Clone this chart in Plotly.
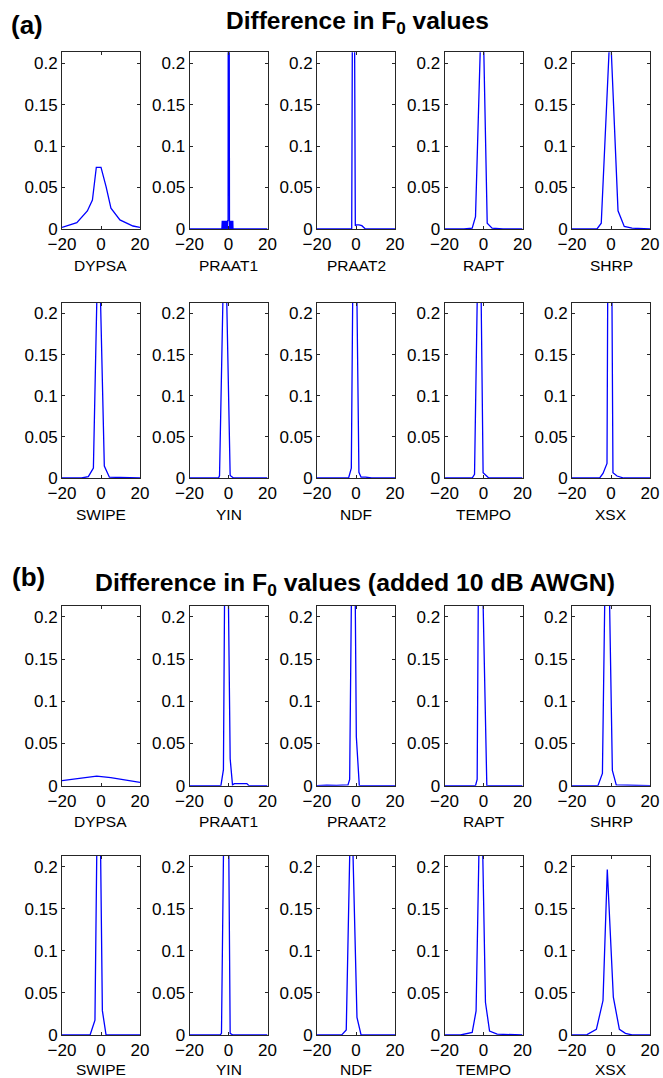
import plotly.graph_objects as go

W, H = 663, 1078

METHODS_ROW1 = ["DYPSA", "PRAAT1", "PRAAT2", "RAPT", "SHRP"]
METHODS_ROW2 = ["SWIPE", "YIN", "NDF", "TEMPO", "XSX"]

X_TICKS = [-20, 0, 20]
Y_TICKS = [0, 0.05, 0.1, 0.15, 0.2]
Y_TICKTEXT = ["0", "0.05", "0.1", "0.15", "0.2"]

# ---- (a) clean speech ----
A_DYPSA_X = [-20, -12.4, -7, -4.4, -2.4, 0, 2.6, 5.1, 9.7, 16.4, 20]
A_DYPSA_Y = [0.002, 0.0076, 0.0217, 0.035, 0.0744, 0.0744, 0.051, 0.025, 0.011, 0.0036, 0.002]

A_PRAAT1_X = [-20, -3.4, -3.2, -3.0, -2.8, -2.6, -2.4, -2.2, -2.0, -1.8, -1.6, -1.4, -1.2, -1.0,
              -0.8, -0.6, -0.4, -0.2, 0.0, 0.2, 0.3, 0.4, 0.5, 0.6, 0.7, 0.8, 0.9, 1.0, 1.1, 1.2,
              1.3, 1.4, 1.5, 1.6, 1.7, 1.8, 1.9, 2.0, 2.1, 2.2, 2.3, 20]
A_PRAAT1_Y = [0, 0, 0.01, 0, 0.01, 0, 0.01, 0, 0.01, 0, 0.01, 0, 0.01, 0,
              0.01, 0, 0.01, 0.01, 0.95, 0.01, 0, 0.01, 0, 0.01, 0, 0.01, 0, 0.01, 0, 0.01,
              0, 0.01, 0, 0.01, 0, 0.01, 0, 0.01, 0, 0.01, 0, 0]

A_PRAAT2_X = [-20, -2.2, -1.35, -0.35, 0.3, 1.5, 3.0, 4.8, 20]
A_PRAAT2_Y = [0, 0, 0.6, 0.004, 0.005, 0.005, 0.004, 0, 0]

A_RAPT_X = [-20, -10, -5.8, -4.1, -0.6, 1.9, 4.4, 10, 20]
A_RAPT_Y = [0, 0, 0.001, 0.015, 0.304, 0.007, 0.001, 0, 0]

A_SHRP_X = [-20, -7.2, -5, -0.4, 3.6, 6.8, 10.8, 20]
A_SHRP_Y = [0, 0, 0.007, 0.245, 0.022, 0.003, 0.001, 0]

A_SWIPE_X = [-20, -10, -6.5, -3.9, -1.25, 1.7, 4.3, 20]
A_SWIPE_Y = [0, 0, 0.0016, 0.012, 0.32, 0.0145, 0.001, 0]

A_YIN_X = [-20, -5.1, -4.6, -1.9, 0.85, 2.6, 20]
A_YIN_Y = [0, 0, 0.003, 0.336, 0.003, 0, 0]

A_NDF_X = [-20, -3.8, -2.4, -0.8, 1.5, 2.6, 5, 8, 20]
A_NDF_Y = [0, 0, 0.012, 0.48, 0.007, 0.001, 0.001, 0, 0]

A_TEMPO_X = [-20, -5.8, -4.6, -2.05, -0.2, 2.7, 20]
A_TEMPO_Y = [0, 0, 0.0045, 0.397, 0.0065, 0, 0]

A_XSX_X = [-20, -5.8, -4.1, -2.05, -0.76, 1.0, 3.1, 6.5, 20]
A_XSX_Y = [0, 0, 0.0056, 0.0177, 0.74, 0.0064, 0.0024, 0, 0]

# ---- (b) added 10 dB AWGN ----
B_DYPSA_X = [-20, -10, -2.2, 5, 12, 20]
B_DYPSA_Y = [0.0059, 0.0088, 0.0114, 0.0095, 0.0068, 0.004]

B_PRAAT1_X = [-20, -3.9, -2.6, -1.28, 0.85, 2.05, 3, 9.4, 10.5, 20]
B_PRAAT1_Y = [0, 0, 0.019, 0.482, 0.032, 0.001, 0.0025, 0.0025, 0, 0]

B_PRAAT2_X = [-20, -15, -10, -6, -4.1, -3.25, -1.27, 0.17, 1.7, 20]
B_PRAAT2_Y = [0, 0.0008, 0.0005, 0.0008, 0.001, 0.0075, 0.483, 0.058, 0, 0]

B_RAPT_X = [-20, -4.1, -3.25, -2.11, 1.7, 20]
B_RAPT_Y = [0, 0, 0.0075, 0.432, 0, 0]

B_SHRP_X = [-20, -6.7, -4.4, -2.11, 0.7, 2.7, 20]
B_SHRP_Y = [0, 0, 0.0145, 0.408, 0.018, 0.001, 0]

B_SWIPE_X = [-20, -5.6, -3.1, -1.2, 0.7, 2.6, 20]
B_SWIPE_Y = [0, 0, 0.0176, 0.424, 0.029, 0, 0]

B_YIN_X = [-20, -4.3, -3.6, -0.95, 0.85, 2.2, 20]
B_YIN_Y = [0, 0, 0.002, 0.556, 0.002, 0, 0]

B_NDF_X = [-20, -12, -7.2, -5, -2.46, 0.5, 2.6, 20]
B_NDF_Y = [0, 0.0005, 0.0005, 0.006, 0.303, 0.021, 0, 0]

B_TEMPO_X = [-20, -11.8, -5.8, -3.8, -1.38, 1.0, 3.1, 7, 20]
B_TEMPO_Y = [0, 0, 0.003, 0.0286, 0.343, 0.039, 0.0047, 0.001, 0]

B_XSX_X = [-20, -12.3, -7.5, -4.1, -1.9, 1.2, 4.3, 7.4, 10.8, 20]
B_XSX_Y = [0, 0.0005, 0.0067, 0.041, 0.197, 0.045, 0.0067, 0.002, 0, 0]

panels = [
    (A_DYPSA_X, A_DYPSA_Y), (A_PRAAT1_X, A_PRAAT1_Y), (A_PRAAT2_X, A_PRAAT2_Y),
    (A_RAPT_X, A_RAPT_Y), (A_SHRP_X, A_SHRP_Y),
    (A_SWIPE_X, A_SWIPE_Y), (A_YIN_X, A_YIN_Y), (A_NDF_X, A_NDF_Y),
    (A_TEMPO_X, A_TEMPO_Y), (A_XSX_X, A_XSX_Y),
    (B_DYPSA_X, B_DYPSA_Y), (B_PRAAT1_X, B_PRAAT1_Y), (B_PRAAT2_X, B_PRAAT2_Y),
    (B_RAPT_X, B_RAPT_Y), (B_SHRP_X, B_SHRP_Y),
    (B_SWIPE_X, B_SWIPE_Y), (B_YIN_X, B_YIN_Y), (B_NDF_X, B_NDF_Y),
    (B_TEMPO_X, B_TEMPO_Y), (B_XSX_X, B_XSX_Y),
]
labels = METHODS_ROW1 + METHODS_ROW2 + METHODS_ROW1 + METHODS_ROW2

# panel positions in page pixels
col_left = [62, 189.5, 317, 444.5, 572]
col_w = 78
row_tb = [(52.3, 229), (302.7, 478), (606, 785.7), (856, 1035)]
label_gap = [36, 36, 36, 34]


def fx(px):
    return px / W


def fy(py):
    return 1 - py / H


FONT = "Liberation Sans, Arial, Helvetica, sans-serif"
AXCOL = "#262626"

fig = go.Figure()
layout = dict(
    width=W, height=H,
    margin=dict(l=0, r=0, t=0, b=0, pad=0, autoexpand=False),
    paper_bgcolor="white", plot_bgcolor="white",
    showlegend=False,
    font=dict(family=FONT, size=17, color="black"),
)
annotations = []

for i, ((xs, ys), lab) in enumerate(zip(panels, labels)):
    r, c = divmod(i, 5)
    n = i + 1
    xa = "xaxis" if n == 1 else f"xaxis{n}"
    ya = "yaxis" if n == 1 else f"yaxis{n}"
    xref = "x" if n == 1 else f"x{n}"
    yref = "y" if n == 1 else f"y{n}"
    top, bot = row_tb[r]
    l = col_left[c]
    layout[xa] = dict(
        domain=[fx(l), fx(l + col_w)], anchor=yref, automargin=False,
        range=[-20, 20], tickvals=X_TICKS, ticks="inside", ticklen=3,
        tickcolor=AXCOL, showline=True, linecolor=AXCOL, linewidth=1,
        mirror="ticks", showgrid=False, zeroline=False, ticklabeloverflow="allow",
        tickfont=dict(size=17, family=FONT, color="black"),
    )
    layout[ya] = dict(
        domain=[fy(bot), fy(top)], anchor=xref, automargin=False,
        range=[0, 0.213], tickvals=Y_TICKS, ticktext=Y_TICKTEXT,
        ticks="inside", ticklen=3, tickcolor=AXCOL,
        showline=True, linecolor=AXCOL, linewidth=1, mirror="ticks",
        showgrid=False, zeroline=False,
        tickfont=dict(size=17, family=FONT, color="black"),
    )
    fig.add_trace(go.Scatter(x=xs, y=ys, mode="lines", xaxis=xref, yaxis=yref,
                             line=dict(color="#0000ff", width=1.3)))
    annotations.append(dict(
        text=lab, xref="paper", yref="paper",
        x=fx(l + col_w / 2), y=fy(bot + label_gap[r]),
        xanchor="center", yanchor="middle", showarrow=False,
        font=dict(size=15.5, family=FONT, color="black"),
    ))

annotations += [
    dict(text="<b>(a)</b>", xref="paper", yref="paper", x=fx(9), y=fy(25),
         xanchor="left", yanchor="middle", showarrow=False,
         font=dict(size=26, family=FONT, color="black")),
    dict(text="<b>Difference in F<sub>0</sub> values</b>", xref="paper", yref="paper",
         x=fx(357), y=fy(22), xanchor="center", yanchor="middle", showarrow=False,
         font=dict(size=24.5, family=FONT, color="black")),
    dict(text="<b>(b)</b>", xref="paper", yref="paper", x=fx(10), y=fy(577),
         xanchor="left", yanchor="middle", showarrow=False,
         font=dict(size=26, family=FONT, color="black")),
    dict(text="<b>Difference in F<sub>0</sub> values (added 10 dB AWGN)</b>", xref="paper",
         yref="paper", x=fx(355), y=fy(584), xanchor="center", yanchor="middle",
         showarrow=False, font=dict(size=24.8, family=FONT, color="black")),
]
layout["annotations"] = annotations
fig.update_layout(**layout)
fig.write_html("out.html", config={"displayModeBar": False},
               post_script="document.body.style.margin='0px';")
